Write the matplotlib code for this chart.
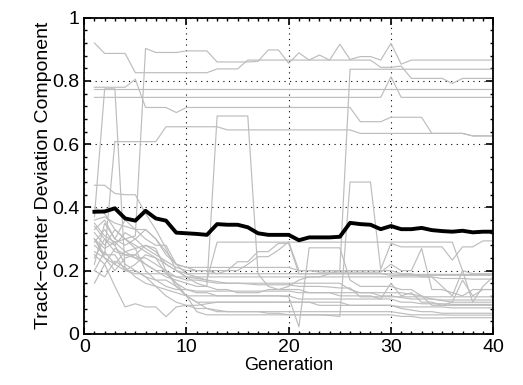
import numpy as np
import matplotlib
matplotlib.use("Agg")
import matplotlib.pyplot as plt
from matplotlib.ticker import MultipleLocator

# generation axis
generations = np.arange(1, 41)

# individual runs (gray), one list of 40 values per run
run_a = [0.92, 0.887, 0.887, 0.887] + [0.826] * 8 + [0.838] * 3 + [0.866] * 13 + \
        [0.843, 0.843, 0.847] + [0.808] * 4 + [0.792] + [0.808] * 4
run_b = [0.35, 0.31, 0.29, 0.30, 0.31, 0.903, 0.89, 0.89, 0.89, 0.895, 0.895, 0.895,
         0.86, 0.86, 0.86, 0.86, 0.862, 0.898, 0.898, 0.856, 0.889, 0.866, 0.882, 0.866,
         0.916, 0.868, 0.877, 0.877, 0.866, 0.919, 0.853] + [0.866] * 9
run_c = [0.30, 0.27, 0.29, 0.26, 0.24, 0.22, 0.20, 0.18, 0.17, 0.16, 0.15, 0.15, 0.14,
         0.14, 0.13, 0.13, 0.13, 0.14, 0.14, 0.15, 0.17, 0.18, 0.18, 0.19, 0.20] + [0.837] * 15
run_d = [0.773] * 40
run_e = [0.748] * 29 + [0.813] + [0.748] * 10
run_f = [0.78] * 4 + [0.805] + [0.716] * 3 + [0.70] + [0.716] * 17 + [0.671] * 3 + \
        [0.685] * 4 + [0.634] * 4 + [0.626] * 3
run_g = [0.30, 0.25] + [0.608] * 5 + [0.655] * 6 + [0.645] * 13 + [0.634] * 11 + [0.626] * 3
run_h = [0.37, 0.775, 0.775, 0.20, 0.22, 0.25, 0.24, 0.19, 0.16, 0.14] + [0.135] * 10 + \
        [0.13] * 10 + [0.13, 0.125, 0.12, 0.11, 0.105, 0.10, 0.10, 0.10, 0.10, 0.10]
run_i = [0.40, 0.38, 0.33, 0.30, 0.28, 0.26, 0.24, 0.22, 0.20, 0.18, 0.16, 0.15] + [0.689] * 4 + \
        [0.19, 0.15, 0.14, 0.14, 0.14, 0.13, 0.13, 0.13, 0.12, 0.12, 0.12, 0.12, 0.11, 0.16,
         0.12, 0.13, 0.10, 0.10, 0.09, 0.09, 0.09, 0.09, 0.09, 0.09]
run_j = [0.24, 0.30, 0.28, 0.22, 0.20, 0.18, 0.15, 0.12, 0.10, 0.09, 0.08, 0.08, 0.075,
         0.07, 0.07, 0.07, 0.07, 0.065, 0.065, 0.06, 0.06, 0.06, 0.06, 0.058, 0.055,
         0.48, 0.48, 0.48, 0.204, 0.286, 0.275, 0.275, 0.275, 0.275, 0.275, 0.233,
         0.275, 0.275, 0.294, 0.294]
run_k = [0.26, 0.24, 0.22, 0.26, 0.27, 0.28, 0.26, 0.22, 0.20, 0.19, 0.18, 0.17] + \
        [0.29] * 24 + [0.20, 0.19, 0.19, 0.19]
run_l = [0.33, 0.36, 0.30, 0.28, 0.30, 0.33, 0.30, 0.26, 0.22, 0.21, 0.20, 0.20, 0.20,
         0.20, 0.228, 0.228, 0.26, 0.26, 0.286, 0.286, 0.19] + [0.19] * 8 + [0.185] * 11
run_m = [0.20, 0.18, 0.23, 0.21, 0.18, 0.16, 0.15, 0.14, 0.13] + [0.12] * 10 + \
        [0.117, 0.022, 0.272, 0.272, 0.272, 0.272, 0.17, 0.15, 0.15, 0.15, 0.15, 0.14,
         0.14, 0.12, 0.09, 0.09, 0.10, 0.17, 0.12, 0.14, 0.14]
run_n = [0.29, 0.33, 0.28, 0.32, 0.30, 0.27, 0.25, 0.23, 0.21, 0.20, 0.20, 0.20, 0.19,
         0.20, 0.20, 0.22, 0.244, 0.244, 0.265, 0.291, 0.20, 0.20] + [0.195] * 7 + \
        [0.22, 0.20, 0.20, 0.27, 0.14, 0.14, 0.13, 0.12, 0.14, 0.14, 0.14]
run_o = [0.47, 0.47, 0.444, 0.44, 0.44, 0.38, 0.33, 0.27, 0.20, 0.18, 0.175, 0.17, 0.165,
         0.16, 0.16, 0.158, 0.155, 0.155, 0.155, 0.155, 0.15, 0.15, 0.15, 0.148, 0.145,
         0.145] + [0.117] * 14
run_p = [0.36, 0.37, 0.35, 0.34, 0.33, 0.33, 0.30, 0.25, 0.22, 0.19] + [0.19] * 20 + [0.188] * 10
run_q = [0.34, 0.30, 0.26, 0.25, 0.24, 0.24, 0.22, 0.20, 0.18, 0.17, 0.17, 0.165] + \
        [0.16] * 13 + [0.14, 0.13, 0.13, 0.12, 0.12, 0.115, 0.11, 0.11, 0.11] + [0.107] * 6
run_r = [0.32, 0.28, 0.33, 0.30, 0.27, 0.20, 0.17, 0.15, 0.14, 0.14, 0.13, 0.13] + \
        [0.12] * 8 + [0.11] * 10 + [0.10, 0.10, 0.095, 0.095, 0.095] + [0.093] * 5
run_s = [0.30, 0.24, 0.20, 0.24, 0.25, 0.22, 0.20, 0.20, 0.16, 0.12, 0.10, 0.10] + \
        [0.10] * 13 + [0.09] * 5 + [0.085] * 5 + [0.082] * 5
run_t = [0.16, 0.22, 0.15, 0.085, 0.095, 0.085, 0.085, 0.054, 0.085, 0.09, 0.09, 0.095] + \
        [0.10] * 10 + [0.09] * 8 + [0.08, 0.075, 0.07, 0.07] + [0.065] * 6
run_u = [0.25, 0.22, 0.27, 0.25, 0.25, 0.28, 0.27, 0.20, 0.15, 0.12, 0.10, 0.08] + \
        [0.07] * 18 + [0.065, 0.06, 0.06, 0.06, 0.06] + [0.059] * 5
run_v = [0.28, 0.25, 0.25, 0.20, 0.20, 0.18, 0.17, 0.17, 0.15, 0.12, 0.07, 0.06] + \
        [0.06] * 18 + [0.055, 0.055, 0.05, 0.05, 0.05] + [0.051] * 5
run_w = [0.22, 0.35, 0.30, 0.36, 0.33, 0.30, 0.28, 0.28, 0.22, 0.21] + [0.21] * 10 + \
        [0.20] * 10 + [0.19, 0.19, 0.18, 0.18, 0.175, 0.175, 0.175, 0.173, 0.173, 0.173]
run_x = [0.20, 0.26, 0.22, 0.20, 0.19, 0.19, 0.19, 0.19] + [0.18] * 26 + \
        [0.15, 0.12, 0.20, 0.10, 0.15, 0.18]

runs = [run_a, run_b, run_c, run_d, run_e, run_f, run_g, run_h, run_i, run_j, run_k, run_l,
        run_m, run_n, run_o, run_p, run_q, run_r, run_s, run_t, run_u, run_v, run_w, run_x]

# average over runs (black)
mean_run = [0.386, 0.387, 0.397, 0.365, 0.358, 0.389, 0.365, 0.358, 0.320, 0.318,
            0.316, 0.313, 0.347, 0.345, 0.345, 0.337, 0.318, 0.313, 0.313, 0.313,
            0.296, 0.305, 0.305, 0.305, 0.307, 0.351, 0.347, 0.345, 0.331, 0.341,
            0.331, 0.331, 0.335, 0.328, 0.325, 0.323, 0.326, 0.321, 0.323, 0.323]

plt.rcParams["font.family"] = ["Liberation Sans", "DejaVu Sans"]

fig = plt.figure(figsize=(5.23, 3.85), dpi=100)
ax = fig.add_axes([0.161, 0.133, 0.782, 0.821])

for r in runs:
    ax.plot(generations, r, color="#bdbdbd", linewidth=0.85)
ax.plot(generations, mean_run, color="black", linewidth=2.8)

ax.set_xlim(0, 40)
ax.set_ylim(0, 1)
ax.set_xticks([0, 10, 20, 30, 40])
ax.set_yticks([0, 0.2, 0.4, 0.6, 0.8, 1])
ax.set_yticklabels(["0", "0.2", "0.4", "0.6", "0.8", "1"])
ax.xaxis.set_minor_locator(MultipleLocator(1))
ax.yaxis.set_minor_locator(MultipleLocator(0.04))
ax.tick_params(which="both", direction="in", top=True, right=True, labelsize=14)
ax.tick_params(which="major", length=5, width=1.2)
ax.tick_params(which="minor", length=2.5, width=1.0)
ax.grid(True, which="major", color="black", linestyle=(0, (1, 4)), linewidth=0.8)
for s in ax.spines.values():
    s.set_linewidth(1.3)

ax.set_xlabel("Generation", fontsize=13, labelpad=1)
ax.set_ylabel("Track\u2212center Deviation Component", fontsize=14, labelpad=0)

fig.savefig("out.png", dpi=100)
